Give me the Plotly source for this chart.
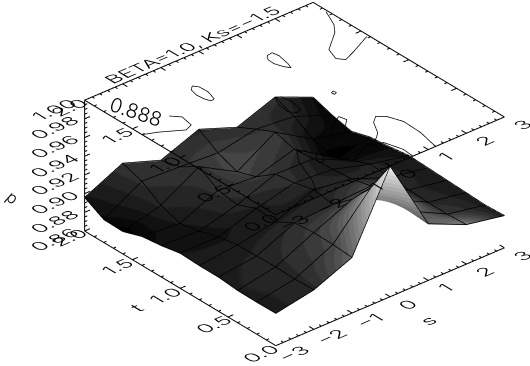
import json
import plotly.graph_objects as go

# ---- data ----
s_vals = [-3, -2, -1, 0, 1, 2, 3]
t_vals = [0.0, 0.2, 0.4, 0.6, 0.8, 1.0, 1.2, 1.4, 1.6, 1.8, 2.0]
p_sm3 = [.894, .8937, .894, .896, .896, .897, .893, .8905, .8835, .884, .8953]
p_sm2 = [.9017, .901, .9017, .901, .9007, .897, .891, .887, .894, .9076, .9146]
p_sm1 = [.9188, .9205, .921, .919, .908, .910, .9017, .905, .918, .9055, .9003]
p_s0 = [.999, .964, .939, .9215, .925, .920, .917, .902, .895, .903, .916]
p_s1 = [.920, .9215, .922, .9237, .919, .917, .916, .914, .920, .911, .9007]
p_s2 = [.9017, .9007, .901, .902, .903, .905, .897, .888, .895, .907, .9156]
p_s3 = [.894, .893, .894, .895, .896, .897, .894, .892, .886, .891, .898]
shade_sm3 = [40, 40, 42, 40, 35, 32, 25, 15, 5, 18, 30]
shade_sm2 = [48, 48, 48, 45, 38, 28, 28, 32, 45, 55, 60]
shade_sm1 = [110, 80, 70, 55, 40, 40, 50, 55, 60, 60, 60]
shade_s0 = [235, 170, 90, 50, 40, 55, 60, 70, 80, 75, 50]
shade_s1 = [100, 110, 180, 90, 50, 35, 40, 55, 70, 60, 55]
shade_s2 = [140, 70, 50, 45, 50, 45, 25, 5, 20, 45, 55]
shade_s3 = [38, 38, 38, 38, 35, 30, 20, 15, 12, 10, 20]

contour_lines = [
    ([-.987, -.905, -.895, -.982, -1.079, -1.135, -1.155, -1.104, -.987], [1.676, 1.636, 1.546, 1.449, 1.442, 1.492, 1.567, 1.640, 1.676]),
    ([.931, 1.084, 1.115, 1.048, .991, .909, .833, .844, .931], [1.658, 1.667, 1.606, 1.486, 1.432, 1.472, 1.547, 1.612, 1.658]),
    ([2.961, 2.751, 2.561, 2.034, 1.911, 2.039, 2.366, 2.949], [1.851, 1.684, 1.598, 1.451, 1.329, 1.276, 1.323, 1.419]),
    ([.97, 1.04, 1.05, .98, .97], [1.0, 1.01, .98, .97, 1.0]),
    ([1.192, 1.321, 1.341, 1.209, 1.04, .856, .662, .519, .222], [.001, .209, .394, .519, .566, .514, .394, .348, .293]),
    ([-2.106, -1.933, -2.0, -2.205, -2.67, -3.0], [1.47, 1.404, 1.283, 1.255, 1.35, 1.4]),
    ([-.022, .096, .137, .07, -.069, -.18, -.139, -.022], [1.195, 1.18, 1.082, .961, .948, .997, 1.107, 1.195]),
    ([-.677, -.729, -.909, -1.01, -.903, -.677], [.476, .404, .333, .344, .418, .476]),
    ([-.903, -1.067, -1.292, -1.553, -1.809], [.522, .551, .441, .2, .047]),
    ([.11, .473, .519, .141, -.192, .11], [.654, .726, .66, .541, .513, .654]),
    ([-.474, .088, .498, .625, .599], [.193, .312, .267, .109, 0]),
]
s_ticks = [-3, -2, -1, 0, 1, 2, 3]
t_ticks = [0.0, 0.5, 1.0, 1.5, 2.0]
t_tick_text = ["0.0", "0.5", "1.0", "1.5", "2.0"]
p_ticks = [0.86, 0.88, 0.90, 0.92, 0.94, 0.96, 0.98, 1.00]
p_tick_text = ["0.86", "0.88", "0.90", "0.92", "0.94", "0.96", "0.98", "1.00"]
title_text = "BETA=1.0, Ks=\u22121.5"
contour_label = "0.888"

# ---- helpers ----
SMIN, SMAX, TMIN, TMAX, PMIN, PMAX = -3, 3, 0, 2, 0.86, 1.0


def to_px(s, t, p):
    return (277 + (s + 3) * 38.2 - 96 * t,
            346 - (s + 3) * 16.3 - 57.5 * t - (p - PMIN) / (PMAX - PMIN) * 131)


xs, ys, zs = [], [], []


def seg(a, b):
    xs.extend([a[0], b[0], None])
    ys.extend([a[1], b[1], None])
    zs.extend([a[2], b[2], None])


# box edges
for p in (PMIN, PMAX):
    seg((SMIN, TMIN, p), (SMAX, TMIN, p))
    seg((SMIN, TMIN, p), (SMIN, TMAX, p))
seg((SMIN, TMAX, PMAX), (SMAX, TMAX, PMAX))
seg((SMAX, TMIN, PMAX), (SMAX, TMAX, PMAX))
seg((SMIN, TMAX, PMIN), (SMIN, TMAX, PMAX))

# ticks
for i in range(31):
    v = SMIN + i * 0.2
    L = 0.05 if i % 5 == 0 else 0.025
    for p in (PMIN, PMAX):
        seg((v, TMIN, p), (v, TMIN + L, p))
    seg((v, TMAX, PMAX), (v, TMAX - L, PMAX))
for i in range(21):
    v = i * 0.1
    L = 0.14 if i % 5 == 0 else 0.07
    for p in (PMIN, PMAX):
        seg((SMIN, v, p), (SMIN + L, v, p))
    seg((SMAX, v, PMAX), (SMAX - L, v, PMAX))
for i in range(29):
    v = PMIN + i * 0.005
    L = 0.14 if i % 4 == 0 else 0.07
    seg((SMIN, TMAX, v), (SMIN + L, TMAX, v))

fig = go.Figure()
columns = [p_sm3, p_sm2, p_sm1, p_s0, p_s1, p_s2, p_s3]
shades = [shade_sm3, shade_sm2, shade_sm1, shade_s0, shade_s1, shade_s2, shade_s3]
P = [[c[i] for c in columns] for i in range(len(t_vals))]
S = [[c[i] for c in shades] for i in range(len(t_vals))]

# stepped grey scale gives the banding of the original shading
N_BANDS = 24
band_scale = []
for b in range(N_BANDS):
    frac = b / (N_BANDS - 1)
    g = int(round(255 * frac ** 1.1))
    band_scale.append([b / N_BANDS, f"rgb({g},{g},{g})"])
    band_scale.append([(b + 1) / N_BANDS, f"rgb({g},{g},{g})"])

fig.add_trace(go.Surface(
    x=s_vals, y=t_vals, z=P, surfacecolor=S, cmin=0, cmax=255,
    colorscale=band_scale, showscale=False, hoverinfo="skip",
    lighting=dict(ambient=1, diffuse=0, specular=0, roughness=1, fresnel=0),
    contours=dict(x=dict(highlight=False), y=dict(highlight=False), z=dict(highlight=False)),
))

# mesh drawn from the same grid, a hair above the surface
LIFT = 0.0006
mx, my, mz = [], [], []
for j, sv in enumerate(s_vals):
    mx += [sv] * len(t_vals) + [None]
    my += t_vals + [None]
    mz += [v + LIFT for v in columns[j]] + [None]
for i, tv in enumerate(t_vals):
    mx += s_vals + [None]
    my += [tv] * len(s_vals) + [None]
    mz += [c[i] + LIFT for c in columns] + [None]
fig.add_trace(go.Scatter3d(x=mx, y=my, z=mz, mode="lines", hoverinfo="skip",
                           line=dict(color="black", width=1.5), showlegend=False))

fig.add_trace(go.Scatter3d(x=xs, y=ys, z=zs, mode="lines", hoverinfo="skip",
                           line=dict(color="black", width=2), showlegend=False))
cx, cy, cz = [], [], []
for ls, lt in contour_lines:
    cx += list(ls) + [None]
    cy += list(lt) + [None]
    cz += [PMAX] * len(ls) + [None]
fig.add_trace(go.Scatter3d(x=cx, y=cy, z=cz, mode="lines", hoverinfo="skip",
                           line=dict(color="black", width=1.5), showlegend=False))

# ---- labels ----
PLANE = (0.919 * 1.85, -0.393 * 1.85, 0.858 * 1.4, 0.514 * 1.4)
ann, mats = [], []


def label(text, x, y, size=12, mat=PLANE):
    ann.append(dict(text=text, x=x / 530, y=1 - y / 366, xref="paper", yref="paper",
                    showarrow=False, xanchor="center", yanchor="middle",
                    font=dict(family="Inter", size=size, color="black", weight=300)))
    mats.append(mat)


for v in s_ticks:
    txt = str(v).replace("-", "\u2212")
    for p in (PMIN, PMAX):
        px, py = to_px(v, TMIN, p)
        label(txt, px + 16, py + 7)
for v, txt in zip(t_ticks, t_tick_text):
    for p in (PMIN, PMAX):
        px, py = to_px(SMIN, v, p)
        label(txt, px - 16, py + 7)
for v, txt in zip(p_ticks, p_tick_text):
    px, py = to_px(SMIN, TMAX, v)
    label(txt, px - 31, py + 9)
px, py = to_px(0, TMAX, PMAX)
label(title_text, px - 7, py - 6.5, size=11.6)
label("s", 428, 320)
label("t", 137, 307)
label("p", 12, 197, mat=(1.0, 0.9, -0.9, 1.0))
label(contour_label, 136, 112, size=20, mat=(0.95, 0.31, -0.31, 0.95))

# axis ranges pad a little so lines on the box faces are not clipped
PAD_S, PAD_T, PAD_P = 0.02, 0.01, 0.001
SCALE = 1.72
fig.update_layout(
    width=530, height=366, margin=dict(l=0, r=0, t=0, b=0),
    paper_bgcolor="white", showlegend=False, annotations=ann,
    scene=dict(
        domain=dict(x=[0.1126, 0.997], y=[0.049, 1.0]),
        xaxis=dict(visible=False, range=[SMIN - PAD_S, SMAX + PAD_S]),
        yaxis=dict(visible=False, range=[TMIN - PAD_T, TMAX + PAD_T]),
        zaxis=dict(visible=False, range=[PMIN - PAD_P, PMAX + PAD_P]),
        aspectmode="manual",
        aspectratio=dict(x=SCALE * (1 + 2 * PAD_S / 6),
                         y=0.99 * SCALE * (1 + 2 * PAD_T / 2),
                         z=0.507 * SCALE * (1 + 2 * PAD_P / 0.14)),
        camera=dict(projection=dict(type="orthographic"),
                    up=dict(x=0, y=0, z=1),
                    center=dict(x=0, y=0, z=0),
                    eye=dict(x=-0.556 * 1.8, y=-0.658 * 1.8, z=0.506 * 1.8)),
    ),
)

post = """
document.body.style.margin = '0';
var mats = %s;
function skew(){
  document.querySelectorAll('g.annotation').forEach(function(g){
    var i = +g.getAttribute('data-index');
    var t = g.querySelector('text');
    if(!t || !mats[i]) return;
    t.removeAttribute('transform');
    var b = t.getBBox(), cx = b.x + b.width/2, cy = b.y + b.height/2, m = mats[i];
    t.setAttribute('transform', 'translate('+cx+','+cy+') matrix('+m.join(',')+',0,0) translate('+(-cx)+','+(-cy)+')');
  });
}
skew();
""" % json.dumps(mats)

fig.write_html("out.html", post_script=post, config={"displayModeBar": False})
